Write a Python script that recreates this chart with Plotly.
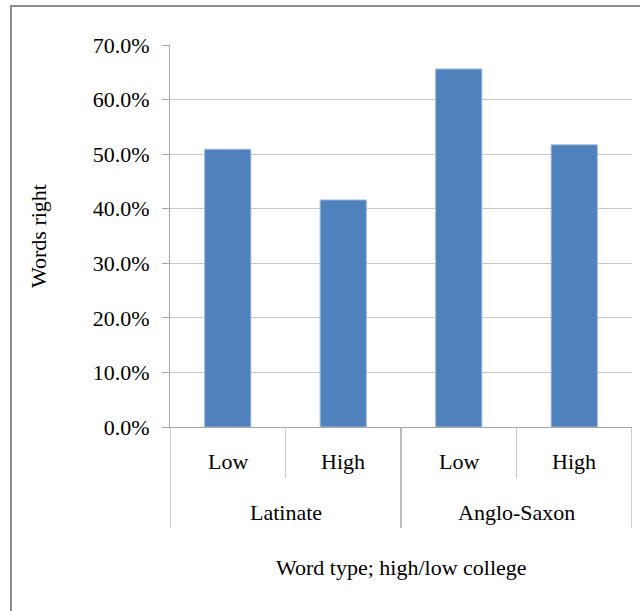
import plotly.graph_objects as go

groups = ["Latinate", "Latinate", "Anglo-Saxon", "Anglo-Saxon"]
levels = ["Low", "High", "Low", "High"]
values = [0.509, 0.416, 0.656, 0.517]
y_ticks = [0.0, 0.1, 0.2, 0.3, 0.4, 0.5, 0.6, 0.7]
y_ticktext = ["0.0%", "10.0%", "20.0%", "30.0%", "40.0%", "50.0%", "60.0%", "70.0%"]
x_title = "Word type; high/low college"
y_title = "Words right"

FONT = "Liberation Serif, Times New Roman, serif"
FS = 22
idx = list(range(len(values)))

fig = go.Figure()
fig.add_trace(go.Bar(
    x=idx, y=values, width=0.4,
    marker=dict(color="#4F81BD", line=dict(color="#9DB9DF", width=1)),
    hoverinfo="skip",
))

plot_h = 611 - 45 - 184
plot_w = 640 - 170 - 8

annotations = []
shapes = []
for i, lab in zip(idx, levels):
    annotations.append(dict(x=i, y=0, xref="x", yref="paper", text=lab, showarrow=False,
                            yanchor="middle", yshift=-34, font=dict(family=FONT, size=FS, color="#000")))
seen = []
for g in groups:
    if g not in seen:
        seen.append(g)
for g in seen:
    members = [i for i, gg in zip(idx, groups) if gg == g]
    cx = sum(members) / len(members)
    annotations.append(dict(x=cx, y=0, xref="x", yref="paper", text=g, showarrow=False,
                            yanchor="middle", yshift=-85, font=dict(family=FONT, size=FS, color="#000")))
    for bx in (members[0] - 0.5, members[-1] + 0.5):
        shapes.append(dict(type="line", xref="x", yref="paper", x0=bx, x1=bx, y0=0, y1=-101 / plot_h,
                           line=dict(color="#A6A6A6", width=1)))
    for a, b in zip(members[:-1], members[1:]):
        mx = (a + b) / 2
        shapes.append(dict(type="line", xref="x", yref="paper", x0=mx, x1=mx, y0=0, y1=-51 / plot_h,
                           line=dict(color="#C8C8C8", width=1)))

annotations.append(dict(x=0.5, y=0, xref="paper", yref="paper", text=x_title, showarrow=False,
                        yanchor="middle", yshift=-140, font=dict(family=FONT, size=FS, color="#000")))
annotations.append(dict(x=0, y=0.5, xref="paper", yref="paper", text=y_title, showarrow=False,
                        textangle=-90, xanchor="center", xshift=-132, font=dict(family=FONT, size=FS, color="#000")))

shapes.append(dict(type="rect", xref="paper", yref="paper",
                   x0=(11 - 170) / plot_w, x1=(660 - 170) / plot_w,
                   y0=(427 - 640) / plot_h, y1=(427 - 6) / plot_h,
                   line=dict(color="#8C8C8C", width=2), fillcolor="rgba(0,0,0,0)", layer="below"))

fig.update_layout(
    width=640, height=611,
    margin=dict(l=170, r=8, t=45, b=184),
    paper_bgcolor="white", plot_bgcolor="white",
    showlegend=False,
    bargap=0.6,
    annotations=annotations,
    shapes=shapes,
    xaxis=dict(range=[-0.5, 3.5], showticklabels=False, showgrid=False, zeroline=False,
               showline=True, linecolor="#A6A6A6", linewidth=1, ticks="", fixedrange=True),
    yaxis=dict(range=[0, 0.7], tickvals=y_ticks, ticktext=y_ticktext, showgrid=True,
               gridcolor="#C8C8C8", gridwidth=1, zeroline=False, showline=True,
               linecolor="#A6A6A6", linewidth=1, ticks="outside", ticklen=7, tickcolor="#A6A6A6",
               tickfont=dict(family=FONT, size=FS, color="#000"), ticklabelstandoff=8),
)

fig.write_html("out.html", config={"displayModeBar": False},
               post_script="document.body.style.margin='0';document.body.style.overflow='hidden';")
